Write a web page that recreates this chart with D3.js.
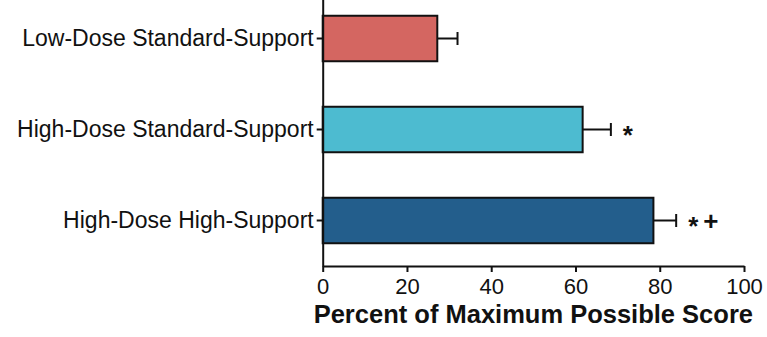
<!DOCTYPE html>
<html>
<head>
<meta charset="utf-8">
<script src="https://cdn.jsdelivr.net/npm/d3@7"></script>
<style>
  html, body { margin: 0; padding: 0; background: #ffffff; }
  svg { display: block; font-family: "Liberation Sans", Arial, Helvetica, sans-serif; }
</style>
</head>
<body>
<svg id="chart" width="767" height="337"></svg>
<script>
// Groups, mean scores (% of maximum possible) and error half-widths
const groups = ["Low-Dose Standard-Support", "High-Dose Standard-Support", "High-Dose High-Support"];
const means = [27.2, 61.7, 78.5];
const errors = [4.8, 6.7, 5.4];
const significance = ["", "*", "*+"];
const barColors = ["#d46661", "#4dbbd0", "#235e8c"];
const xTicks = [0, 20, 40, 60, 80, 100];
const xTitle = "Percent of Maximum Possible Score";

const svg = d3.select("#chart");

const x = d3.scaleLinear().domain([0, 100]).range([322.7, 744]);
const y = d3.scaleBand().domain(groups).range([-7, 266]).paddingInner(0.5).paddingOuter(0.25);

// Bars
svg.append("g").selectAll("rect")
  .data(groups)
  .join("rect")
  .attr("x", x(0))
  .attr("y", d => y(d))
  .attr("width", (d, i) => x(means[i]) - x(0))
  .attr("height", y.bandwidth())
  .attr("fill", (d, i) => barColors[i])
  .attr("stroke", "#111")
  .attr("stroke-width", 2);

// Error bars (upper side only)
const eb = svg.append("g").attr("stroke", "#111").attr("stroke-width", 2);
groups.forEach((g, i) => {
  const cy = y(g) + y.bandwidth() / 2;
  eb.append("line")
    .attr("x1", x(means[i])).attr("x2", x(means[i] + errors[i]))
    .attr("y1", cy).attr("y2", cy);
  eb.append("line")
    .attr("x1", x(means[i] + errors[i])).attr("x2", x(means[i] + errors[i]))
    .attr("y1", cy - 6.5).attr("y2", cy + 6.5);
});

// Significance markers
const sig = svg.append("g").attr("font-weight", "bold").attr("font-size", 26).attr("fill", "#111");
groups.forEach((g, i) => {
  const cy = y(g) + y.bandwidth() / 2;
  const x0 = x(means[i] + errors[i]) + 12;
  const marks = significance[i].split("");
  marks.forEach((m, k) => {
    sig.append("text")
      .attr("x", x0 + k * 15)
      .attr("y", m === "*" ? cy + 14.5 : cy + 9.6)
      .text(m);
  });
});

// X axis
const xAxis = svg.append("g")
  .attr("transform", "translate(0,266)")
  .call(d3.axisBottom(x).tickValues(xTicks).tickSize(6).tickSizeOuter(0).tickPadding(6));
xAxis.select(".domain").attr("stroke", "#111").attr("stroke-width", 2);
xAxis.selectAll(".tick line").attr("stroke", "#111").attr("stroke-width", 2);
xAxis.selectAll(".tick text")
  .attr("font-size", 22)
  .attr("font-family", "\"Liberation Sans\", Arial, Helvetica, sans-serif")
  .attr("fill", "#111");

// Y axis
const yAxis = svg.append("g")
  .attr("transform", `translate(${x(0)},0)`)
  .call(d3.axisLeft(y).tickSize(6).tickSizeOuter(0).tickPadding(3));
yAxis.select(".domain").attr("stroke", "#111").attr("stroke-width", 2);
yAxis.selectAll(".tick line").attr("stroke", "#111").attr("stroke-width", 2);
yAxis.selectAll(".tick text")
  .attr("font-size", 23)
  .attr("font-family", "\"Liberation Sans\", Arial, Helvetica, sans-serif")
  .attr("fill", "#111");

// Axis title
svg.append("text")
  .attr("x", (x(0) + x(100)) / 2)
  .attr("y", 323)
  .attr("text-anchor", "middle")
  .attr("font-weight", "bold")
  .attr("font-size", 25.5)
  .attr("fill", "#111")
  .text(xTitle);
</script>
</body>
</html>
